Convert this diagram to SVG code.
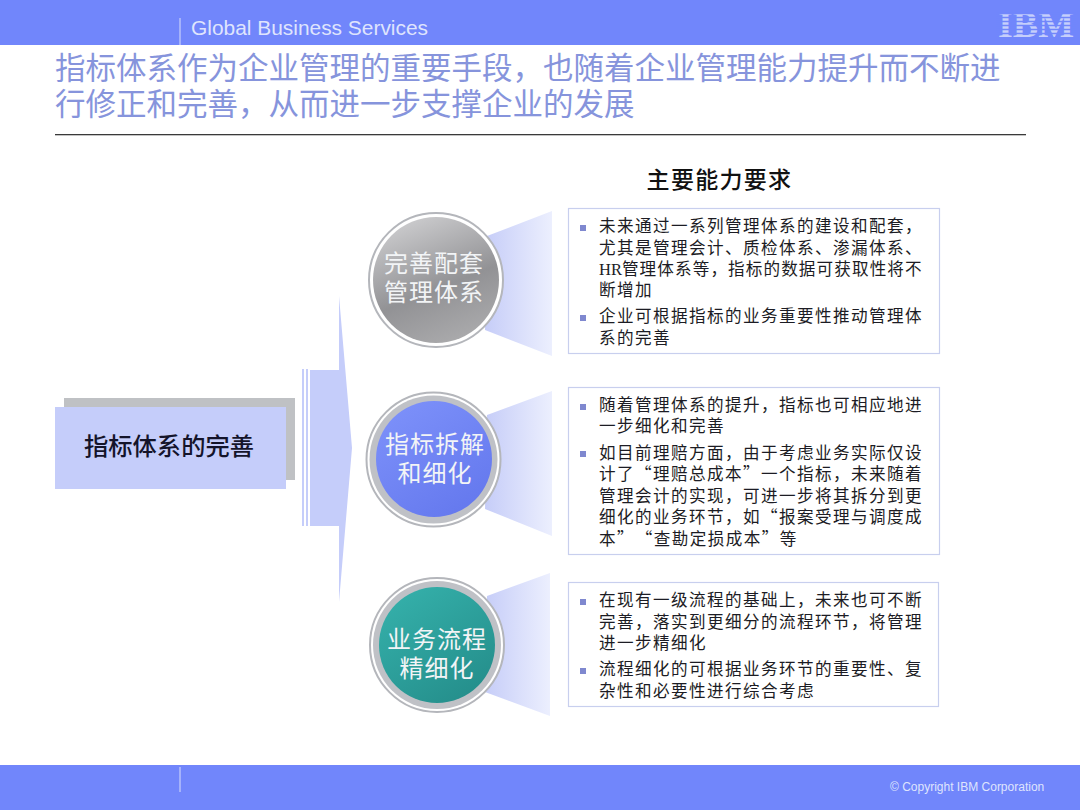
<svg xmlns="http://www.w3.org/2000/svg" width="1080" height="810" viewBox="0 0 1080 810">
<style>
text{font-family:"Liberation Sans","Noto Sans CJK SC",sans-serif}
.band{fill:#7186fb}
.sep{stroke:#c9d1fb;stroke-width:1.2}
.title{font-size:30.5px;fill:#8694dc;font-family:"Noto Sans CJK SC",sans-serif}
.cn{font-family:"Noto Sans CJK SC",sans-serif}
.body{font-size:16.6px;fill:#1c1c24;letter-spacing:1.4px;font-family:"Noto Sans CJK SC",sans-serif}
.latin{font-family:"Liberation Serif",serif;font-size:16.5px;letter-spacing:0}
.box{fill:#fff;stroke:#c8cfee;stroke-width:1.2}
.bul{fill:#7f88cf}
.ctext{font-size:24px;fill:#f2f4f6;text-anchor:middle;letter-spacing:1px;font-family:"Noto Sans CJK SC",sans-serif}
.ring{fill:#fff;stroke:#b4b6bb;stroke-width:2}
.band2{fill:#bfc1c6}
.lav{fill:#c5cdfa}
</style>
<defs>
<linearGradient id="cone" x1="0" x2="1" y1="0" y2="0"><stop offset="0" stop-color="#c6cdf8"/><stop offset="1" stop-color="#eceffe"/></linearGradient>
<linearGradient id="gGray" x1="0.2" y1="0" x2="0.6" y2="1"><stop offset="0" stop-color="#cfcfd1"/><stop offset="0.6" stop-color="#929295"/><stop offset="1" stop-color="#a9a9ab"/></linearGradient>
<linearGradient id="gBlue" x1="0" y1="0" x2="0.7" y2="1"><stop offset="0" stop-color="#7f93fb"/><stop offset="1" stop-color="#6579ee"/></linearGradient>
<linearGradient id="gTeal" x1="0" y1="0" x2="0.7" y2="1"><stop offset="0" stop-color="#36b3ad"/><stop offset="1" stop-color="#258f8c"/></linearGradient>
</defs>
<rect width="1080" height="810" fill="#fff"/>
<g id="header">
<rect class="band" width="1080" height="45"/>
<line class="sep" x1="180" y1="18" x2="180" y2="45"/>
<text x="191" y="35" font-size="20.5" fill="#dfe4fd" textLength="237" lengthAdjust="spacingAndGlyphs">Global Business Services</text>
<text x="998" y="37" font-size="36" font-weight="700" fill="#c6cffb" textLength="76" lengthAdjust="spacingAndGlyphs" style="font-family:'Liberation Serif',serif">IBM</text>
<g stroke="#7186fb" stroke-width="1.3"><line x1="996" x2="1076" y1="13.500" y2="13.500"/><line x1="996" x2="1076" y1="17.500" y2="17.500"/><line x1="996" x2="1076" y1="21.500" y2="21.500"/><line x1="996" x2="1076" y1="25.500" y2="25.500"/><line x1="996" x2="1076" y1="29.500" y2="29.500"/><line x1="996" x2="1076" y1="33.500" y2="33.500"/></g>
</g>
<g id="title">
<text class="title" x="55" y="79">指标体系作为企业管理的重要手段，也随着企业管理能力提升而不断进</text>
<text class="title" x="55" y="115">行修正和完善，从而进一步支撑企业的发展</text>
<rect x="55" y="134" width="971" height="1.300" fill="#3a3a3a"/>
</g>
<text id="heading" class="cn" x="719.500" y="188" font-size="23" font-weight="500" fill="#111" text-anchor="middle" letter-spacing="1.300">主要能力要求</text>
<g id="connectors">
<polygon points="487,236 552,211 552,356 485,330" fill="url(#cone)"/>
<polygon points="487,415 552,391 552,536 485,509" fill="url(#cone)"/>
<polygon points="487,596 550,573 550,716 485,692" fill="url(#cone)"/>
</g>
<g id="node-root">
<rect x="64" y="398" width="231" height="82" fill="#bfc1c4"/>
<rect class="lav" x="55" y="407" width="231" height="82"/>
<text class="cn" x="169" y="455" font-size="24.300" font-weight="500" fill="#14142a" text-anchor="middle">指标体系的完善</text>
</g>
<g id="node-arrow">
<rect class="lav" x="302" y="369" width="2" height="157"/>
<rect class="lav" x="306" y="369" width="2" height="157"/>
<polygon class="lav" points="310,370 339,370 339,296 352,448 339,602 339,526 310,526"/>
</g>
<g id="node-1">
<circle class="ring" cx="436" cy="280" r="67"/>
<circle cx="436" cy="280" r="63" fill="url(#gGray)"/>
<text class="ctext" x="434" y="272">完善配套</text>
<text class="ctext" x="434" y="301">管理体系</text>
</g>
<g id="node-2">
<circle class="ring" cx="433.500" cy="459.500" r="67"/>
<circle class="band2" cx="433.500" cy="459.500" r="64"/>
<circle cx="434" cy="459" r="58" fill="url(#gBlue)"/>
<text class="ctext" x="435" y="453">指标拆解</text>
<text class="ctext" x="435" y="482">和细化</text>
</g>
<g id="node-3">
<circle class="ring" cx="437" cy="645" r="67"/>
<circle class="band2" cx="437" cy="645" r="64"/>
<circle cx="437" cy="645" r="58" fill="url(#gTeal)"/>
<text class="ctext" x="437" y="648">业务流程</text>
<text class="ctext" x="437" y="677">精细化</text>
</g>
<g id="node-box-1">
<rect class="box" x="568.500" y="208.500" width="371" height="145"/>
<rect class="bul" x="580" y="225" width="6" height="6"/>
<rect class="bul" x="580" y="315" width="6" height="6"/>
<text class="body" x="599" y="232">未来通过一系列管理体系的建设和配套，</text>
<text class="body" x="599" y="254">尤其是管理会计、质检体系、渗漏体系、</text>
<text class="body" x="599" y="275" style="letter-spacing:1.1px"><tspan class="latin">HR</tspan>管理体系等，指标的数据可获取性将不</text>
<text class="body" x="599" y="296">断增加</text>
<text class="body" x="599" y="322">企业可根据指标的业务重要性推动管理体</text>
<text class="body" x="599" y="344">系的完善</text>
</g>
<g id="node-box-2">
<rect class="box" x="568.500" y="387.500" width="371" height="167"/>
<rect class="bul" x="580" y="404" width="6" height="6"/>
<rect class="bul" x="580" y="451" width="6" height="6"/>
<text class="body" x="599" y="411">随着管理体系的提升，指标也可相应地进</text>
<text class="body" x="599" y="432">一步细化和完善</text>
<text class="body" x="599" y="459">如目前理赔方面，由于考虑业务实际仅设</text>
<text class="body" x="599" y="480">计了“理赔总成本”一个指标，未来随着</text>
<text class="body" x="599" y="502">管理会计的实现，可进一步将其拆分到更</text>
<text class="body" x="599" y="523">细化的业务环节，如“报案受理与调度成</text>
<text class="body" x="599" y="545">本”<tspan dx="9">“查勘定损成本”等</tspan></text>
</g>
<g id="node-box-3">
<rect class="box" x="568.500" y="582.500" width="370" height="124"/>
<rect class="bul" x="580" y="599" width="6" height="6"/>
<rect class="bul" x="580" y="668" width="6" height="6"/>
<text class="body" x="599" y="606">在现有一级流程的基础上，未来也可不断</text>
<text class="body" x="599" y="628">完善，落实到更细分的流程环节，将管理</text>
<text class="body" x="599" y="649">进一步精细化</text>
<text class="body" x="599" y="675">流程细化的可根据业务环节的重要性、复</text>
<text class="body" x="599" y="697">杂性和必要性进行综合考虑</text>
</g>
<g id="footer">
<rect class="band" y="765" width="1080" height="45"/>
<line class="sep" x1="180" y1="767" x2="180" y2="792"/>
<text x="890" y="791" font-size="12" fill="#dfe4fd">© Copyright IBM Corporation</text>
</g>
</svg>
